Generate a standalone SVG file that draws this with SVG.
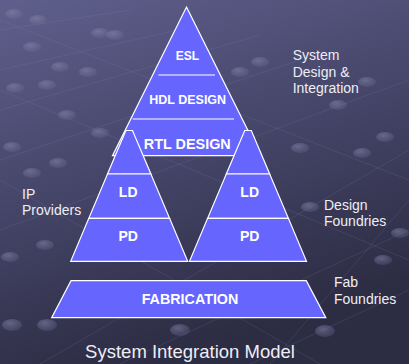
<svg xmlns="http://www.w3.org/2000/svg" width="409" height="364" viewBox="0 0 409 364">
<defs>
<linearGradient id="bg" x1="0" y1="0" x2="0.35" y2="1">
<stop offset="0" stop-color="#5f5f8d"/>
<stop offset="0.5" stop-color="#46466a"/>
<stop offset="1" stop-color="#2c2c43"/>
</linearGradient>
<radialGradient id="dot" cx="0.4" cy="0.35" r="0.7">
<stop offset="0" stop-color="#8a8ab0" stop-opacity="0.55"/>
<stop offset="1" stop-color="#6a6a90" stop-opacity="0.25"/>
</radialGradient>
<style>
.shape{fill:#6666ff;stroke:#ffffff;stroke-width:1.2;stroke-linejoin:miter}
.sep{stroke:#ffffff;stroke-width:1.2}
.nl{font-family:"Liberation Sans",Arial,sans-serif;font-weight:bold;fill:#ffffff;text-anchor:middle}
.lb{font-family:"Liberation Sans",Arial,sans-serif;font-size:14px;fill:#eeeef4}
.deco{stroke:#8c8cb4;stroke-opacity:0.25;stroke-width:0.7;fill:none}
.d{fill:url(#dot)}
</style>
</defs>
<rect x="0" y="0" width="409" height="364" fill="url(#bg)"/>
<g id="background-pattern">
<path class="deco" d="M0 30 L130 10 M0 70 L200 25 M0 110 L260 35 M0 160 L300 60 M0 230 L409 80 M40 364 L409 150 M120 364 L409 230 M250 364 L409 290 M0 20 L409 180 M0 90 L409 260 M0 180 L320 364 M270 364 L409 200"/>
<ellipse class="d" cx="14" cy="14" rx="9" ry="5"/>
<ellipse class="d" cx="38" cy="20" rx="9" ry="5"/>
<ellipse class="d" cx="100" cy="33" rx="9" ry="5"/>
<ellipse class="d" cx="115" cy="35" rx="9" ry="5"/>
<ellipse class="d" cx="32" cy="47" rx="9" ry="5"/>
<ellipse class="d" cx="60" cy="67" rx="9" ry="5"/>
<ellipse class="d" cx="88" cy="72" rx="9" ry="5"/>
<ellipse class="d" cx="47" cy="85" rx="9" ry="5"/>
<ellipse class="d" cx="15" cy="88" rx="9" ry="5"/>
<ellipse class="d" cx="67" cy="115" rx="9" ry="5"/>
<ellipse class="d" cx="100" cy="133" rx="9" ry="5"/>
<ellipse class="d" cx="12" cy="147" rx="9" ry="5"/>
<ellipse class="d" cx="58" cy="163" rx="9" ry="5"/>
<ellipse class="d" cx="32" cy="173" rx="9" ry="5"/>
<ellipse class="d" cx="240" cy="72" rx="9" ry="5"/>
<ellipse class="d" cx="260" cy="62" rx="9" ry="5"/>
<ellipse class="d" cx="338" cy="105" rx="9" ry="5"/>
<ellipse class="d" cx="367" cy="82" rx="9" ry="5"/>
<ellipse class="d" cx="300" cy="148" rx="9" ry="5"/>
<ellipse class="d" cx="362" cy="153" rx="9" ry="5"/>
<ellipse class="d" cx="385" cy="137" rx="9" ry="5"/>
<ellipse class="d" cx="310" cy="207" rx="9" ry="5"/>
<ellipse class="d" cx="400" cy="233" rx="9" ry="5"/>
<ellipse class="d" cx="383" cy="260" rx="9" ry="5"/>
<ellipse class="d" cx="10" cy="257" rx="9" ry="5"/>
<ellipse class="d" cx="45" cy="245" rx="9" ry="5"/>
<ellipse class="d" cx="12" cy="325" rx="10" ry="6"/>
<ellipse class="d" cx="47" cy="325" rx="10" ry="6"/>
<ellipse class="d" cx="180" cy="330" rx="10" ry="6"/>
<ellipse class="d" cx="325" cy="331" rx="10" ry="6"/>
</g>
<g id="connectors"></g>
<g id="node-system">
<polygon class="shape" points="186.5,7 260.5,155.7 112.5,155.7"/>
<line class="sep" x1="158.3" y1="75" x2="215" y2="75"/>
<line class="sep" x1="132.7" y1="119" x2="234" y2="119"/>
<text class="nl" x="187.5" y="60" font-size="12">ESL</text>
<text class="nl" x="187.7" y="104" font-size="12.5">HDL DESIGN</text>
<text class="nl" x="187.3" y="149" font-size="14.4">RTL DESIGN</text>
</g>
<g id="node-ip">
<polygon class="shape" points="125.9,130.5 132.5,130.5 150.9,174 107.5,174"/>
<polygon class="shape" points="107.5,174 150.9,174 169.6,218.3 88.8,218.3"/>
<polygon class="shape" points="88.8,218.3 169.6,218.3 187.7,261.3 70.7,261.3"/>
<text class="nl" x="128.2" y="197.3" font-size="14">LD</text>
<text class="nl" x="128.2" y="241.3" font-size="14">PD</text>
</g>
<g id="node-design-foundry">
<polygon class="shape" points="244.7,130.5 251.3,130.5 269.7,174 226.3,174"/>
<polygon class="shape" points="226.3,174 269.7,174 288.4,218.3 207.6,218.3"/>
<polygon class="shape" points="207.6,218.3 288.4,218.3 306.5,261.3 189.5,261.3"/>
<text class="nl" x="249.7" y="197.3" font-size="14">LD</text>
<text class="nl" x="249.7" y="241.3" font-size="14">PD</text>
</g>
<g id="node-fabrication">
<polygon class="shape" points="71,280.7 306.3,280.7 325.8,317.7 51.7,317.7"/>
<text class="nl" x="190" y="304" font-size="14.3">FABRICATION</text>
</g>
<g id="labels">
<text class="lb" x="292.7" y="60">System</text>
<text class="lb" x="292.7" y="76.7">Design &amp;</text>
<text class="lb" x="292.7" y="93.3">Integration</text>
<text class="lb" x="22" y="199">IP</text>
<text class="lb" x="22" y="215">Providers</text>
<text class="lb" x="324" y="209.5">Design</text>
<text class="lb" x="324" y="226">Foundries</text>
<text class="lb" x="334" y="287">Fab</text>
<text class="lb" x="334" y="304">Foundries</text>
<text x="190" y="358" font-family="Liberation Sans, Arial, sans-serif" font-size="18.5" fill="#eeeef4" text-anchor="middle">System Integration Model</text>
</g>
</svg>
